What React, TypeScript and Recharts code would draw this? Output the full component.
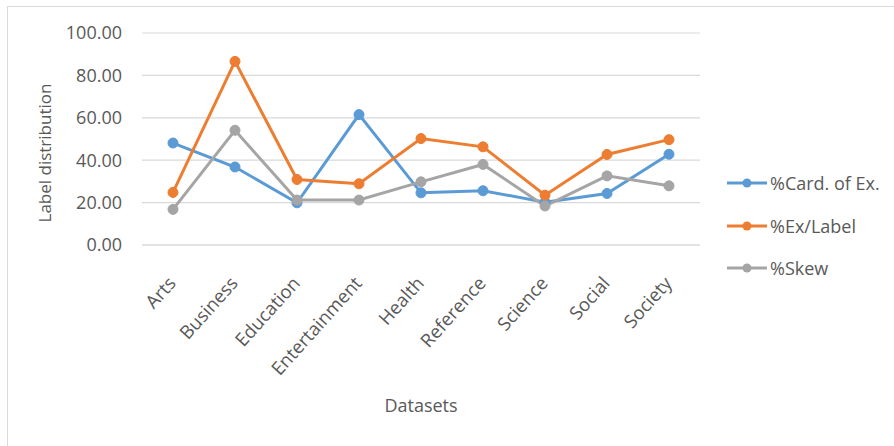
import React from 'react';
import { LineChart, Line, XAxis, YAxis, CartesianGrid } from 'recharts';

const categories = ['Arts', 'Business', 'Education', 'Entertainment', 'Health', 'Reference', 'Science', 'Social', 'Society'];
const cardOfEx = [48.1, 36.8, 19.9, 61.5, 24.6, 25.6, 20.2, 24.3, 42.8];
const exPerLabel = [24.8, 86.6, 30.9, 28.9, 50.2, 46.3, 23.5, 42.7, 49.7];
const skew = [16.8, 54.1, 21.2, 21.2, 29.8, 38.0, 18.4, 32.6, 27.9];
const yTicks = [0, 20, 40, 60, 80, 100];

const series = [
  { key: 'card', name: '%Card. of Ex.', color: '#5B9BD5' },
  { key: 'exlabel', name: '%Ex/Label', color: '#ED7D31' },
  { key: 'skew', name: '%Skew', color: '#A5A5A5' },
];

const data = categories.map((c, i) => ({
  name: c,
  card: cardOfEx[i],
  exlabel: exPerLabel[i],
  skew: skew[i],
}));

const FONT = '"Open Sans", sans-serif';
const TEXT = '#595959';

const XTick = (props: any) => {
  const { x, y, payload } = props;
  return (
    <g transform={`translate(${x + 4},${y + 31})`}>
      <text transform="rotate(-48)" textAnchor="end" fill={TEXT} fontSize={18.5} fontFamily={FONT}>
        {payload.value}
      </text>
    </g>
  );
};

// legend drawn by hand, recharts' Legend would eat plot space
const LegendBox = () => (
  <div style={{ position: 'absolute', left: 727, top: 162, fontFamily: FONT, fontSize: 18, color: TEXT }}>
    {series.map((s) => (
      <div key={s.key} style={{ display: 'flex', alignItems: 'center', height: 42.5 }}>
        <svg width={42} height={12}>
          <line x1={0} y1={6} x2={40} y2={6} stroke={s.color} strokeWidth={3} />
          <circle cx={20} cy={6} r={4.5} fill={s.color} />
        </svg>
        <span style={{ marginLeft: 1 }}>{s.name}</span>
      </div>
    ))}
  </div>
);

export default function App() {
  return (
    <div style={{ position: 'absolute', left: 0, top: 0, width: 894, height: 446, background: '#fff', overflow: 'hidden' }}>
      <div style={{ position: 'absolute', left: 7, top: 6, width: 900, height: 460, borderTop: '1.5px solid #d9d9d9', borderLeft: '1.5px solid #d9d9d9' }} />
      <LineChart width={894} height={446} data={data} margin={{ top: 33, right: 194, left: 42, bottom: 31 }}>
        <CartesianGrid vertical={false} stroke="#d9d9d9" strokeWidth={1.2} />
        <XAxis
          dataKey="name"
          height={170}
          padding={{ left: 31, right: 31 }}
          tick={<XTick />}
          tickLine={false}
          axisLine={{ stroke: '#d9d9d9', strokeWidth: 1.2 }}
          interval={0}
          label={{ value: 'Datasets', position: 'insideBottom', offset: 3, fill: TEXT, fontSize: 18, fontFamily: FONT }}
        />
        <YAxis
          width={100}
          domain={[0, 100]}
          ticks={yTicks}
          tickFormatter={(v: number) => v.toFixed(2)}
          tick={{ fill: TEXT, fontSize: 18, fontFamily: FONT }}
          tickLine={false}
          axisLine={false}
          tickMargin={14}
          label={{ value: 'Label distribution', angle: -90, position: 'insideLeft', offset: 3, dy: 14, fill: TEXT, fontSize: 17, fontFamily: FONT, style: { textAnchor: 'middle' } }}
        />
        {series.map((s) => (
          <Line
            key={s.key}
            type="linear"
            dataKey={s.key}
            name={s.name}
            stroke={s.color}
            strokeWidth={3}
            dot={{ r: 5, fill: s.color, stroke: s.color, strokeWidth: 1 }}
            activeDot={false}
            isAnimationActive={false}
          />
        ))}
      </LineChart>
      <LegendBox />
    </div>
  );
}
